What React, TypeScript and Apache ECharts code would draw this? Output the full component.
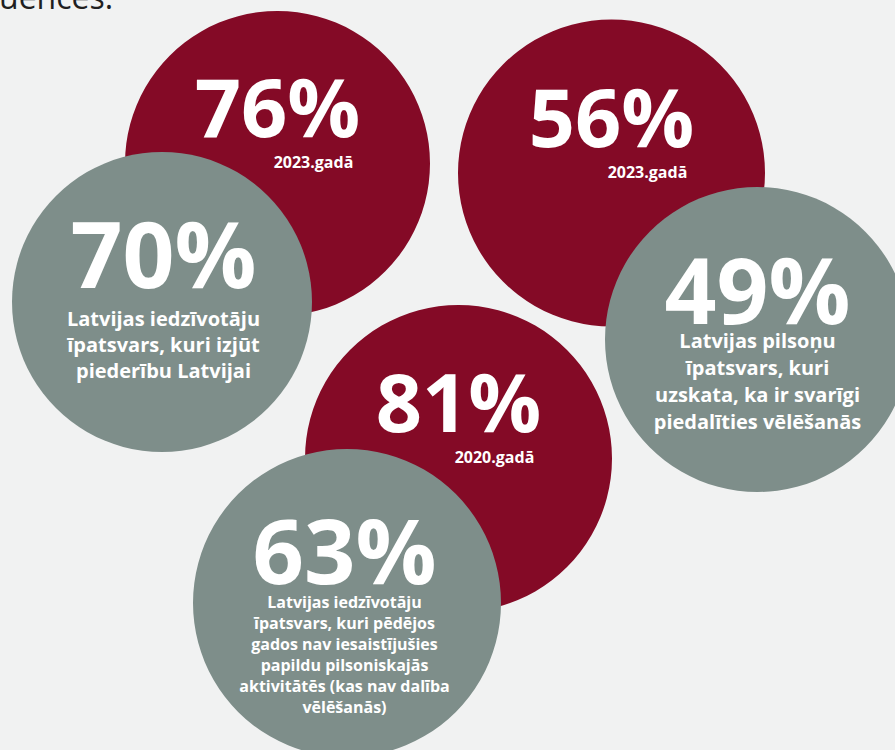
import React, { useEffect, useRef } from "react";
import * as echarts from "echarts";

// ---- data ----
const redPercents = [76, 56, 81];
const redYears = ["2023.gadā", "2023.gadā", "2020.gadā"];
const greyPercents = [70, 49, 63];
const greyCaptions = [
  ["Latvijas iedzīvotāju", "īpatsvars, kuri izjūt", "piederību Latvijai"],
  ["Latvijas pilsoņu", "īpatsvars, kuri", "uzskata, ka ir svarīgi", "piedalīties vēlēšanās"],
  [
    "Latvijas iedzīvotāju",
    "īpatsvars, kuri pēdējos",
    "gados nav iesaistījušies",
    "papildu pilsoniskajās",
    "aktivitātēs (kas nav dalība",
    "vēlēšanās)",
  ],
];
const headingFragment = "uences:";

// ---- layout ----
const redCenters = [
  [277.5, 163.5],
  [611.5, 173],
  [458.5, 458.5],
];
const redRadius = [152.5, 153.5, 153.5];
const greyCenters = [
  [162, 302],
  [757.5, 339.5],
  [347, 603],
];
const greyRadius = [150, 152.5, 154];
const greyLayout = [
  { big: 91, bigLH: 105, cap: 20, capLH: 26, offset: [1.5, -10.5] },
  { big: 91, bigLH: 76, cap: 20, capLH: 27, offset: [0, 3] },
  { big: 90, bigLH: 86, cap: 16, capLH: 21, offset: [-2.5, 8.5] },
];

const RED = "#840A26";
const GREY = "#7E8E8A";
const BG = "#F1F2F2";
const FONT = '"Open Sans", "Noto Sans", sans-serif';

export default function App() {
  const ref = useRef<HTMLDivElement>(null);

  useEffect(() => {
    document.body.style.margin = "0";
    if (!ref.current) return;
    const chart = echarts.init(ref.current, undefined, { renderer: "svg" });

    const redData = redPercents.map((v, i) => ({
      value: redCenters[i],
      symbolSize: redRadius[i] * 2,
      label: {
        show: true,
        position: "inside",
        offset: [0, -48],
        formatter: `{big|${v}%}\n{year|${redYears[i]}}`,
        rich: {
          big: {
            fontSize: 81,
            fontWeight: 700,
            fontFamily: FONT,
            color: "#fff",
            lineHeight: 93,
            align: "center",
          },
          year: {
            fontSize: 16,
            fontWeight: 700,
            fontFamily: FONT,
            color: "#fff",
            lineHeight: 20,
            padding: [0, 0, 0, 72],
            align: "center",
          },
        },
      },
    }));

    const greyData = greyPercents.map((v, i) => {
      const L = greyLayout[i];
      const lines = greyCaptions[i].map((t) => `{cap|${t}}`).join("\n");
      return {
        value: greyCenters[i],
        symbolSize: greyRadius[i] * 2,
        label: {
          show: true,
          position: "inside",
          offset: L.offset,
          formatter: `{big|${v}%}\n${lines}`,
          rich: {
            big: {
              fontSize: L.big,
              fontWeight: 700,
              fontFamily: FONT,
              color: "#fff",
              lineHeight: L.bigLH,
              align: "center",
            },
            cap: {
              fontSize: L.cap,
              fontWeight: 700,
              fontFamily: FONT,
              color: "#fff",
              lineHeight: L.capLH,
              align: "center",
            },
          },
        },
      };
    });

    chart.setOption({
      animation: false,
      backgroundColor: BG,
      grid: { left: 0, right: 0, top: 0, bottom: 0 },
      xAxis: { type: "value", min: 0, max: 895, show: false },
      yAxis: { type: "value", min: 0, max: 750, inverse: true, show: false },
      tooltip: { show: false },
      graphic: [
        {
          type: "text",
          x: -1,
          y: -4,
          silent: true,
          style: {
            text: headingFragment,
            font: `32px ${FONT}`,
            fill: "#1f1f1f",
            verticalAlign: "middle",
            align: "left",
          },
        },
      ],
      series: [
        {
          type: "scatter",
          z: 2,
          symbol: "circle",
          silent: true,
          itemStyle: { color: RED, opacity: 1 },
          emphasis: { disabled: true },
          data: redData,
        },
        {
          type: "scatter",
          z: 3,
          symbol: "circle",
          silent: true,
          itemStyle: { color: GREY, opacity: 1 },
          emphasis: { disabled: true },
          data: greyData,
        },
      ],
    });

    return () => chart.dispose();
  }, []);

  return <div ref={ref} style={{ width: 895, height: 750, background: BG }} />;
}
